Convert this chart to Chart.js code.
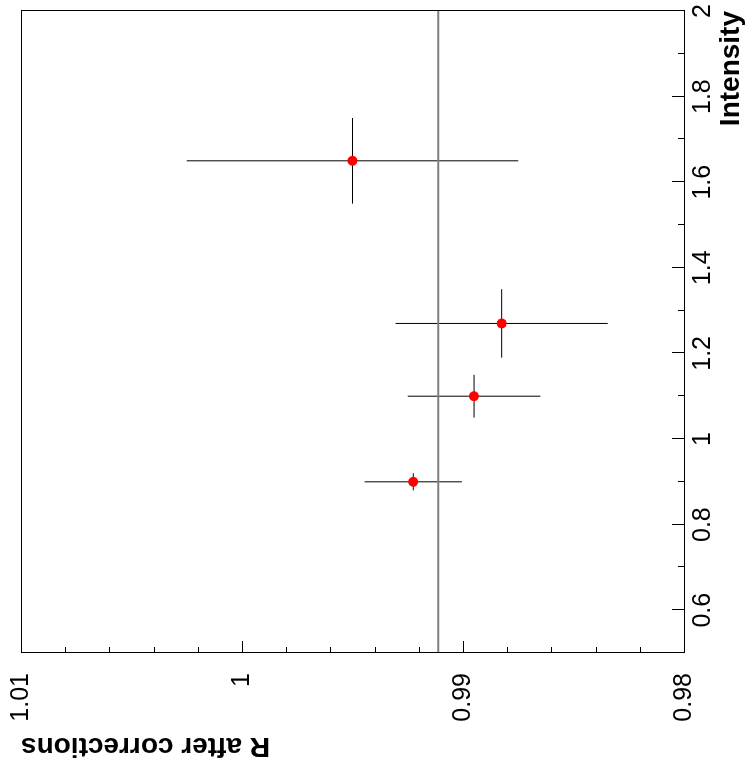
<!DOCTYPE html>
<html>
<head>
<meta charset="utf-8">
<script src="https://cdn.jsdelivr.net/npm/chart.js@4"></script>
<style>
  html, body { margin: 0; padding: 0; background: #fff; overflow: hidden; }
  /* the plot is drawn upright and then turned a quarter turn to the left */
  #wrap {
    position: absolute; left: 0; top: 0;
    width: 771px; height: 748px;
    transform-origin: 0 0;
    transform: translate(0, 771px) rotate(-90deg);
  }
</style>
</head>
<body>
<div id="wrap"><canvas id="plot" width="771" height="748"></canvas></div>
<script>
// Data
const intensity = [1.65, 1.27, 1.10, 0.90];
const intensityErr = [0.10, 0.08, 0.05, 0.02];
const ratio = [0.9950, 0.98825, 0.9895, 0.99225];
const ratioErr = [0.0075, 0.0048, 0.0030, 0.0022];
const meanRatio = 0.99112;

// Labelled ticks
const intensityTicks = [0.6, 0.8, 1, 1.2, 1.4, 1.6, 1.8, 2];
const ratioTicks = [0.98, 0.99, 1, 1.01];

const FONT = "'Liberation Sans', Arial, Helvetica, sans-serif";

function findTick(list, v) {
    return list.find(t => Math.abs(t - v) < 1e-7);
}

// Error bars, drawn under the markers
const errorBars = {
    id: 'errorBars',
    beforeDatasetsDraw(chart) {
        const ctx = chart.ctx;
        const xs = chart.scales.x;
        const ys = chart.scales.y;
        ctx.save();
        ctx.strokeStyle = '#000';
        ctx.lineWidth = 1;
        intensity.forEach((x, i) => {
            const px = xs.getPixelForValue(x);
            const py = ys.getPixelForValue(ratio[i]);
            ctx.beginPath();
            ctx.moveTo(xs.getPixelForValue(x - intensityErr[i]), py);
            ctx.lineTo(xs.getPixelForValue(x + intensityErr[i]), py);
            ctx.moveTo(px, ys.getPixelForValue(ratio[i] - ratioErr[i]));
            ctx.lineTo(px, ys.getPixelForValue(ratio[i] + ratioErr[i]));
            ctx.stroke();
        });
        ctx.restore();
    }
};

// Frame with inward ticks, ROOT style
const frame = {
    id: 'frame',
    afterDraw(chart) {
        const ctx = chart.ctx;
        const a = chart.chartArea;
        const xs = chart.scales.x;
        const ys = chart.scales.y;
        ctx.save();
        ctx.strokeStyle = '#000';
        ctx.lineWidth = 1;
        ctx.strokeRect(Math.round(a.left) + 0.5, Math.round(a.top) + 0.5,
            Math.round(a.right - a.left), Math.round(a.bottom - a.top));
        ctx.beginPath();
        xs.ticks.forEach(t => {
            const px = Math.round(xs.getPixelForValue(t.value)) + 0.5;
            const len = findTick(intensityTicks, t.value) !== undefined ? 12 : 6;
            ctx.moveTo(px, a.bottom);
            ctx.lineTo(px, a.bottom - len);
        });
        ys.ticks.forEach(t => {
            const py = Math.round(ys.getPixelForValue(t.value)) + 0.5;
            const len = findTick(ratioTicks, t.value) !== undefined ? 12 : 6;
            ctx.moveTo(a.left, py);
            ctx.lineTo(a.left + len, py);
        });
        ctx.stroke();
        ctx.restore();
    }
};

function noPadding(scale) {
    scale.paddingTop = 0;
    scale.paddingBottom = 0;
    scale.paddingLeft = 0;
    scale.paddingRight = 0;
}

new Chart(document.getElementById('plot'), {
    type: 'scatter',
    data: {
        datasets: [{
            type: 'line',
            data: [{ x: 0.5, y: meanRatio }, { x: 2, y: meanRatio }],
            borderColor: '#7f7f7f',
            borderWidth: 2,
            pointRadius: 0,
            fill: false
        }, {
            data: intensity.map((x, i) => ({ x: x, y: ratio[i] })),
            backgroundColor: '#ff0000',
            borderWidth: 0,
            pointRadius: 5,
            pointHoverRadius: 5
        }]
    },
    options: {
        responsive: false,
        animation: false,
        devicePixelRatio: 1,
        layout: { padding: { top: 21, right: 11, left: 0, bottom: 0 } },
        plugins: {
            legend: { display: false },
            tooltip: { enabled: false }
        },
        scales: {
            x: {
                type: 'linear',
                min: 0.5,
                max: 2,
                grid: { display: false, drawTicks: false },
                border: { display: false },
                ticks: {
                    stepSize: 0.1,
                    autoSkip: false,
                    maxRotation: 0,
                    minRotation: 0,
                    padding: 4,
                    color: '#000',
                    font: { family: FONT, size: 25 },
                    callback: v => {
                        const t = findTick(intensityTicks, v);
                        return t === undefined ? '' : String(t);
                    }
                },
                title: {
                    display: true,
                    text: 'Intensity',
                    align: 'end',
                    color: '#000',
                    padding: 0,
                    font: { family: FONT, size: 28, weight: 'bold' }
                },
                afterFit: scale => { scale.height = 64; noPadding(scale); }
            },
            y: {
                type: 'linear',
                min: 0.98,
                max: 1.01,
                grid: { display: false, drawTicks: false },
                border: { display: false },
                ticks: {
                    stepSize: 0.002,
                    autoSkip: false,
                    padding: 20,
                    color: '#000',
                    font: { family: FONT, size: 25 },
                    callback: v => {
                        const t = findTick(ratioTicks, v);
                        return t === undefined ? '' : String(t);
                    }
                },
                title: {
                    display: true,
                    text: 'R after corrections',
                    align: 'end',
                    color: '#000',
                    padding: { top: 8, bottom: 0 },
                    font: { family: FONT, size: 28, weight: 'bold' }
                },
                afterFit: scale => { scale.width = 118; noPadding(scale); }
            }
        }
    },
    plugins: [errorBars, frame]
});
</script>
</body>
</html>
